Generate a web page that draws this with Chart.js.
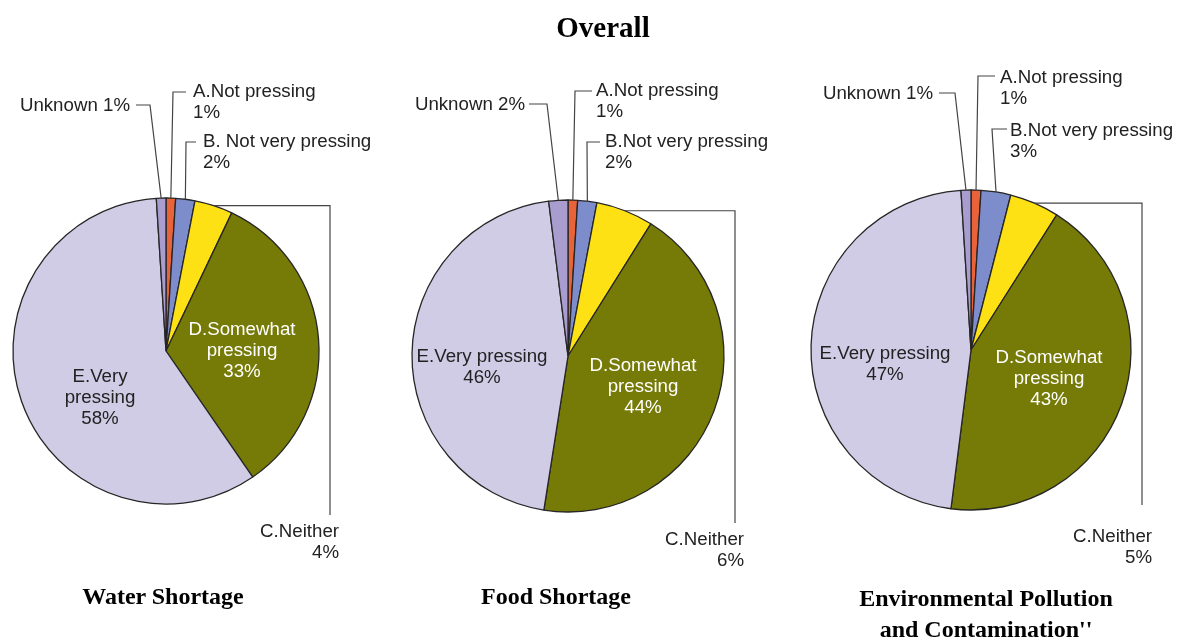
<!DOCTYPE html>
<html>
<head>
<meta charset="utf-8">
<script src="https://cdn.jsdelivr.net/npm/chart.js@4/dist/chart.umd.min.js"></script>
<style>
  body { margin: 0; background: #fff; }
  #page { position: relative; width: 1181px; height: 637px; overflow: hidden; }
  .layer { position: absolute; left: 0; top: 0; width: 1181px; height: 637px; }
  .title { position: absolute; font-family: "Liberation Serif", "Times New Roman", serif; font-weight: bold; color: #000; text-align: center; white-space: nowrap; }
</style>
</head>
<body>
<div id="page">
  <div class="layer"><canvas id="water"></canvas></div>
  <div class="layer"><canvas id="food"></canvas></div>
  <div class="layer"><canvas id="pollution"></canvas></div>
  <div class="title" id="mainTitle" style="left:403px; width:400px; top:11px; font-size:29px;"></div>
  <div class="title" id="t0" style="left:63px; width:200px; top:583px; font-size:24px;"></div>
  <div class="title" id="t1" style="left:456px; width:200px; top:583px; font-size:24px;"></div>
  <div class="title" id="t2" style="left:836px; width:300px; top:583px; font-size:24px; line-height:31px;"></div>
</div>
<script>
// data
var mainTitle = "Overall";
var chartTitles = ["Water Shortage", "Food Shortage", "Environmental Pollution<br>and Contamination''"];
var categories = ["A.Not pressing", "B.Not very pressing", "C.Neither", "D.Somewhat pressing", "E.Very pressing", "Unknown"];
var waterCategories = ["A.Not pressing", "B. Not very pressing", "C.Neither", "D.Somewhat pressing", "E.Very pressing", "Unknown"];
var waterValues = [1, 2, 4, 33, 58, 1];
var foodValues = [1, 2, 6, 44, 46, 2];
var pollutionValues = [1, 3, 5, 43, 47, 1];
var sliceColors = ["#e8623a", "#7d8ccb", "#fde114", "#767a06", "#d0cce6", "#a99dcf"];

document.getElementById("mainTitle").textContent = mainTitle;
for (var t = 0; t < 3; t++) {
    document.getElementById("t" + t).innerHTML = chartTitles[t];
}

var labelFont = '18.7px "Liberation Sans", Arial, sans-serif';
var lineGap = 21;

// leader lines + labels
var leaderPlugin = {
    id: "leaders",
    afterDatasetsDraw: function(chart, args, opts) {
        var ctx = chart.ctx;
        var arcs = chart.getDatasetMeta(0).data;
        var values = chart.data.datasets[0].data;
        var names = chart.data.labels;
        ctx.save();
        ctx.font = labelFont;
        ctx.textBaseline = "middle";
        ctx.strokeStyle = "#444";
        ctx.lineWidth = 1.2;
        opts.items.forEach(function(item) {
            var p = arcs[item.i].getProps(["x", "y", "startAngle", "endAngle", "outerRadius"], true);
            var mid = (p.startAngle + p.endAngle) / 2;
            var ax = p.x + Math.cos(mid) * p.outerRadius;
            var ay = p.y + Math.sin(mid) * p.outerRadius;
            var name = names[item.i];
            var pct = values[item.i] + "%";
            var lines;

            if (item.type == "top") {
                ctx.beginPath();
                ctx.moveTo(ax, ay);
                ctx.lineTo(item.elbow[0], item.elbow[1]);
                ctx.lineTo(item.end, item.elbow[1]);
                ctx.stroke();
                lines = item.oneLine ? [name + " " + pct] : [name, pct];
            } else if (item.type == "side") {
                ctx.beginPath();
                ctx.moveTo(ax, ay);
                ctx.lineTo(item.corner, ay);
                ctx.lineTo(item.corner, item.bottom);
                ctx.stroke();
                lines = [name, pct];
            } else {
                if (item.split) {
                    var k = name.indexOf(" ");
                    lines = [name.slice(0, k), name.slice(k + 1), pct];
                } else {
                    lines = [name, pct];
                }
            }
            ctx.fillStyle = item.color || "#222";
            ctx.textAlign = item.align;
            for (var n = 0; n < lines.length; n++) {
                ctx.fillText(lines[n], item.x, item.y + n * lineGap);
            }
        });
        ctx.restore();
    }
};

function makePie(id, labels, values, cx, cy, r, items) {
    var W = 1181, H = 637;
    return new Chart(document.getElementById(id), {
        type: "pie",
        data: {
            labels: labels,
            datasets: [{
                data: values,
                backgroundColor: sliceColors,
                borderColor: "#262626",
                borderWidth: 1.3,
                hoverOffset: 0,
                offset: 0
            }]
        },
        options: {
            responsive: true,
            maintainAspectRatio: false,
            animation: false,
            events: [],
            radius: r,
            layout: {
                padding: { left: cx - r - 2, right: W - cx - r - 2, top: cy - r - 2, bottom: H - cy - r - 2 }
            },
            plugins: {
                legend: { display: false },
                tooltip: { enabled: false },
                leaders: { items: items }
            }
        },
        plugins: [leaderPlugin]
    });
}

var waterChart = makePie("water", waterCategories, waterValues, 166, 351, 153, [
    { i: 0, type: "top", elbow: [173, 92], end: 186, x: 193, y: 92, align: "left" },
    { i: 1, type: "top", elbow: [186, 142], end: 196, x: 203, y: 142, align: "left" },
    { i: 5, type: "top", elbow: [150, 105], end: 136, x: 130, y: 106, align: "right", oneLine: true },
    { i: 2, type: "side", corner: 330, bottom: 515, x: 339, y: 532, align: "right" },
    { i: 3, type: "inside", split: true, x: 242, y: 330, align: "center", color: "#fff" },
    { i: 4, type: "inside", split: true, x: 100, y: 377, align: "center" }
]);

var foodChart = makePie("food", categories, foodValues, 568, 356, 156, [
    { i: 0, type: "top", elbow: [575, 91], end: 592, x: 596, y: 91, align: "left" },
    { i: 1, type: "top", elbow: [587, 142], end: 600, x: 605, y: 142, align: "left" },
    { i: 5, type: "top", elbow: [547, 104], end: 529, x: 525, y: 105, align: "right", oneLine: true },
    { i: 2, type: "side", corner: 735, bottom: 523, x: 744, y: 540, align: "right" },
    { i: 3, type: "inside", split: true, x: 643, y: 366, align: "center", color: "#fff" },
    { i: 4, type: "inside", split: false, x: 482, y: 357, align: "center" }
]);

var pollutionChart = makePie("pollution", categories, pollutionValues, 971, 350, 160, [
    { i: 0, type: "top", elbow: [978, 76], end: 995, x: 1000, y: 78, align: "left" },
    { i: 1, type: "top", elbow: [992, 129], end: 1007, x: 1010, y: 131, align: "left" },
    { i: 5, type: "top", elbow: [955, 93], end: 939, x: 933, y: 94, align: "right", oneLine: true },
    { i: 2, type: "side", corner: 1142, bottom: 505, x: 1152, y: 537, align: "right" },
    { i: 3, type: "inside", split: true, x: 1049, y: 358, align: "center", color: "#fff" },
    { i: 4, type: "inside", split: false, x: 885, y: 354, align: "center" }
]);
</script>
</body>
</html>
